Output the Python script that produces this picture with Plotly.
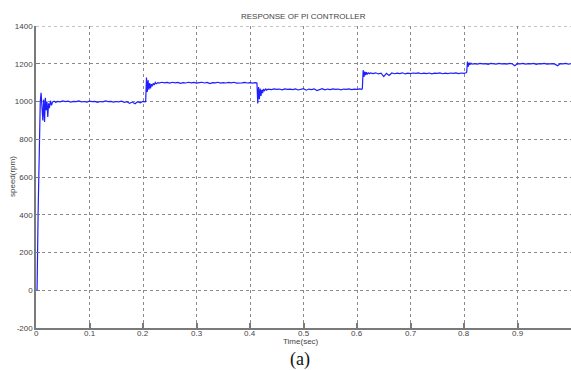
import plotly.graph_objects as go

# ---- data ----
seg1_t = [0, 0.002, 0.004, 0.006, 0.008, 0.0095, 0.011, 0.0128, 0.0145, 0.016, 0.0175, 0.019,
          0.0205, 0.022, 0.0235, 0.025, 0.027, 0.029, 0.031, 0.034, 0.037,
          0.040, 0.045, 0.050, 0.055, 0.060, 0.065, 0.070, 0.075, 0.080, 0.085, 0.090, 0.095,
          0.100, 0.105, 0.110, 0.115, 0.120, 0.125, 0.130, 0.135, 0.140, 0.145, 0.150, 0.155,
          0.160, 0.165, 0.170, 0.175, 0.180, 0.185, 0.190, 0.195, 0.200, 0.204]
seg1_v = [0, 0, 420, 800, 1000, 1046, 960, 900, 1010, 892, 1020, 954,
          1000, 918, 990, 965, 1004, 980, 998, 1002, 995,
          1001, 998, 1003, 999, 1002, 997, 1001, 999, 1003, 998, 1000, 997,
          1002, 999, 1001, 996, 1000, 998, 1003, 999, 1001, 997, 1000, 998,
          1002, 996, 999, 990, 997, 988, 999, 993, 1001, 998]

seg2_t = [0.205, 0.2065, 0.208, 0.2095, 0.211, 0.2125, 0.214, 0.2155, 0.217, 0.219, 0.221, 0.223,
          0.225, 0.228, 0.230, 0.235, 0.240, 0.245, 0.250, 0.255, 0.260, 0.265, 0.270, 0.275,
          0.280, 0.285, 0.290, 0.295, 0.300, 0.305, 0.310, 0.315, 0.320, 0.325, 0.330, 0.335,
          0.340, 0.345, 0.350, 0.355, 0.360, 0.365, 0.370, 0.375, 0.380, 0.385, 0.390, 0.395,
          0.400, 0.405, 0.410, 0.4125]
seg2_v = [1000, 1127, 1050, 1113, 1062, 1098, 1070, 1092, 1080, 1096, 1088, 1101,
          1094, 1100, 1098, 1102, 1099, 1101, 1097, 1102, 1099, 1101, 1096, 1100,
          1098, 1102, 1099, 1101, 1097, 1100, 1102, 1098, 1101, 1095, 1100, 1099,
          1102, 1097, 1100, 1098, 1101, 1099, 1102, 1097, 1100, 1099, 1101, 1098,
          1100, 1097, 1100, 1099]

seg3_t = [0.413, 0.4145, 0.416, 0.4175, 0.419, 0.4205, 0.422, 0.4235, 0.425, 0.427, 0.429, 0.431,
          0.434, 0.440, 0.445, 0.450, 0.455, 0.460, 0.465, 0.470, 0.475, 0.480, 0.485, 0.490,
          0.495, 0.500, 0.505, 0.510, 0.515, 0.520, 0.525, 0.530, 0.535, 0.540, 0.545, 0.550,
          0.555, 0.560, 0.565, 0.570, 0.575, 0.580, 0.585, 0.590, 0.595, 0.600, 0.605, 0.609]
seg3_v = [1098, 989, 1077, 1012, 1069, 1030, 1062, 1045, 1066, 1055, 1068, 1060,
          1066, 1063, 1067, 1064, 1066, 1062, 1067, 1064, 1066, 1063, 1067, 1061,
          1065, 1068, 1060, 1066, 1063, 1067, 1058, 1065, 1068, 1062, 1066, 1063,
          1067, 1064, 1066, 1062, 1066, 1064, 1067, 1063, 1066, 1064, 1067, 1065]

seg4_t = [0.610, 0.6115, 0.613, 0.6145, 0.616, 0.6175, 0.619, 0.621, 0.623, 0.625, 0.630, 0.635,
          0.640, 0.645, 0.650, 0.655, 0.660, 0.665, 0.670, 0.675, 0.680, 0.685, 0.690, 0.695,
          0.700, 0.705, 0.710, 0.715, 0.720, 0.725, 0.730, 0.735, 0.740, 0.745, 0.750, 0.755,
          0.760, 0.765, 0.770, 0.775, 0.780, 0.785, 0.790, 0.795, 0.800, 0.804]
seg4_v = [1070, 1166, 1130, 1158, 1140, 1155, 1145, 1152, 1147, 1151, 1148, 1152,
          1146, 1150, 1132, 1149, 1138, 1151, 1147, 1150, 1148, 1152, 1146, 1150,
          1148, 1151, 1149, 1152, 1147, 1150, 1148, 1151, 1146, 1150, 1149, 1152,
          1147, 1150, 1148, 1151, 1149, 1152, 1148, 1151, 1149, 1152]

seg5_t = [0.805, 0.8065, 0.808, 0.8095, 0.811, 0.813, 0.815, 0.820, 0.825, 0.830, 0.835, 0.840,
          0.845, 0.850, 0.855, 0.860, 0.865, 0.870, 0.875, 0.880, 0.885, 0.890, 0.895, 0.900,
          0.905, 0.910, 0.915, 0.920, 0.925, 0.930, 0.935, 0.940, 0.945, 0.950, 0.955, 0.960,
          0.965, 0.970, 0.975, 0.980, 0.985, 0.990, 0.995, 1.000]
seg5_v = [1155, 1212, 1185, 1205, 1195, 1203, 1198, 1201, 1198, 1202, 1199, 1201,
          1197, 1202, 1200, 1198, 1202, 1199, 1201, 1198, 1202, 1200, 1190, 1201,
          1199, 1202, 1198, 1201, 1199, 1202, 1197, 1201, 1199, 1202, 1198, 1200,
          1201, 1198, 1189, 1201, 1199, 1202, 1198, 1200]

x_ticks = [0, 0.1, 0.2, 0.3, 0.4, 0.5, 0.6, 0.7, 0.8, 0.9]
x_tick_labels = ["0", "0.1", "0.2", "0.3", "0.4", "0.5", "0.6", "0.7", "0.8", "0.9"]
y_ticks = [-200, 0, 200, 400, 600, 800, 1000, 1200, 1400]
y_tick_labels = ["-200", "0", "200", "400", "600", "800", "1000", "1200", "1400"]

t_all = seg1_t + seg2_t + seg3_t + seg4_t + seg5_t
v_all = seg1_v + seg2_v + seg3_v + seg4_v + seg5_v

fig = go.Figure()
fig.add_trace(go.Scatter(x=t_all, y=v_all, mode="lines",
                         line=dict(color="rgb(30,30,255)", width=1.2),
                         showlegend=False, hoverinfo="skip"))

axis_font = dict(family="Liberation Sans, Arial", size=8, color="#444")
fig.update_xaxes(range=[0, 1], tickvals=x_ticks, ticktext=[""] * len(x_ticks),
                 showgrid=True, gridcolor="#8a8a8a", griddash="dot", gridwidth=1,
                 showline=True, linecolor="#7a7a7a", linewidth=1.5,
                 ticks="inside", ticklen=5, tickcolor="#7a7a7a", tickwidth=1.5,
                 tickfont=axis_font, zeroline=False, fixedrange=True)
fig.update_yaxes(range=[-200, 1400], tickvals=y_ticks, ticktext=y_tick_labels,
                 showgrid=True, gridcolor="#8a8a8a", griddash="dot", gridwidth=1,
                 showline=True, linecolor="#7a7a7a", linewidth=1.5,
                 ticks="inside", ticklen=4, tickcolor="#7a7a7a", tickwidth=1,
                 tickfont=axis_font, zeroline=False, fixedrange=True)

# top dotted border at 1400
fig.add_shape(type="line", xref="paper", yref="y", x0=0, x1=1, y0=1400, y1=1400,
              line=dict(color="#8a8a8a", width=1, dash="dot"))

ann_font = dict(family="Liberation Sans, Arial", size=8, color="#444")
annotations = [
    dict(text="RESPONSE OF PI CONTROLLER", xref="paper", yref="paper",
         x=0.5, y=1.03, xanchor="center", yanchor="middle",
         showarrow=False, font=ann_font),
    dict(text="Time(sec)", xref="paper", yref="paper",
         x=0.495, y=-0.046, xanchor="center", yanchor="middle",
         showarrow=False, font=ann_font),
    dict(text="speed(rpm)", xref="paper", yref="paper",
         x=-0.045, y=0.503, xanchor="center", yanchor="middle",
         textangle=-90, showarrow=False, font=ann_font),
    dict(text="(a)", xref="paper", yref="paper",
         x=0.493, y=-0.104, xanchor="center", yanchor="middle",
         showarrow=False,
         font=dict(family="Liberation Serif, Times New Roman", size=18, color="#111")),
]
# x tick labels placed close under the axis, as in the reference
for tv, tl in zip(x_ticks, x_tick_labels):
    annotations.append(dict(text=tl, xref="x", yref="paper", x=tv, y=-0.017,
                            xanchor="center", yanchor="middle", showarrow=False,
                            font=axis_font))

fig.update_layout(
    width=571, height=370,
    margin=dict(l=36, r=0, t=26, b=42),
    paper_bgcolor="white", plot_bgcolor="white",
    annotations=annotations,
)

fig.write_html("out.html")
